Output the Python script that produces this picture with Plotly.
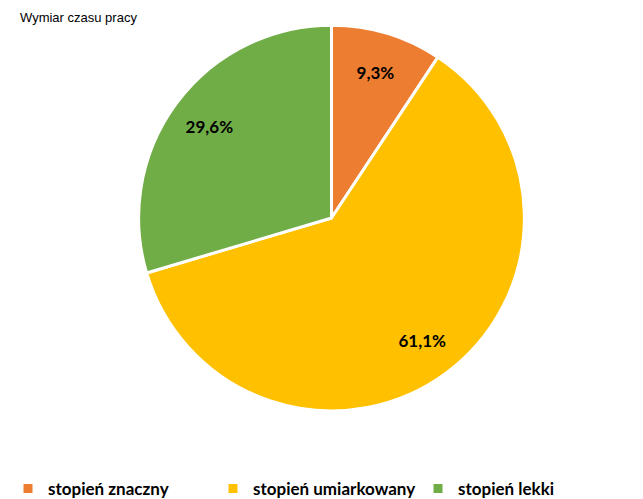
import plotly.graph_objects as go

labels = ["stopień znaczny", "stopień umiarkowany", "stopień lekki"]
values = [9.3, 61.1, 29.6]
colors = ["#ED7D31", "#FFC000", "#70AD47"]
text_labels = ["9,3%", "61,1%", "29,6%"]

label_font = {"family": "Lato", "size": 17, "color": "#000000", "weight": "bold"}
pie_domain = {"x": [0.1944, 0.8009], "y": [0.1474, 0.9684]}

fig = go.Figure()

# the coloured pie itself
fig.add_trace(
    go.Pie(
        labels=labels,
        values=values,
        textinfo="none",
        sort=False,
        direction="clockwise",
        rotation=0,
        domain=pie_domain,
        marker={"colors": colors, "line": {"color": "#FFFFFF", "width": 3}},
        hoverinfo="label+percent",
    )
)

# transparent ring on top, only used to push the labels outward
fig.add_trace(
    go.Pie(
        labels=labels,
        values=values,
        text=text_labels,
        textinfo="text",
        textposition="inside",
        insidetextorientation="horizontal",
        hole=0.58,
        sort=False,
        direction="clockwise",
        rotation=0,
        domain=pie_domain,
        marker={"colors": ["rgba(0,0,0,0)"] * 3, "line": {"width": 0}},
        textfont=label_font,
        showlegend=False,
        hoverinfo="skip",
    )
)

fig.update_layout(
    width=643,
    height=499,
    paper_bgcolor="#FFFFFF",
    plot_bgcolor="#FFFFFF",
    margin={"l": 0, "r": 0, "t": 0, "b": 24},
    showlegend=True,
    legend={
        "orientation": "h",
        "x": -0.011,
        "xanchor": "left",
        "y": -0.0505,
        "yanchor": "bottom",
        "font": label_font,
        "itemwidth": 30,
        "entrywidth": 160,
    },
    annotations=[
        {
            "text": "Wymiar czasu pracy",
            "xref": "paper",
            "yref": "paper",
            "x": 0.005,
            "y": 1.0,
            "xanchor": "left",
            "yanchor": "top",
            "showarrow": False,
            "font": {"family": "Liberation Sans", "size": 13, "color": "#000000"},
        }
    ],
)

fig.write_html("out.html")
